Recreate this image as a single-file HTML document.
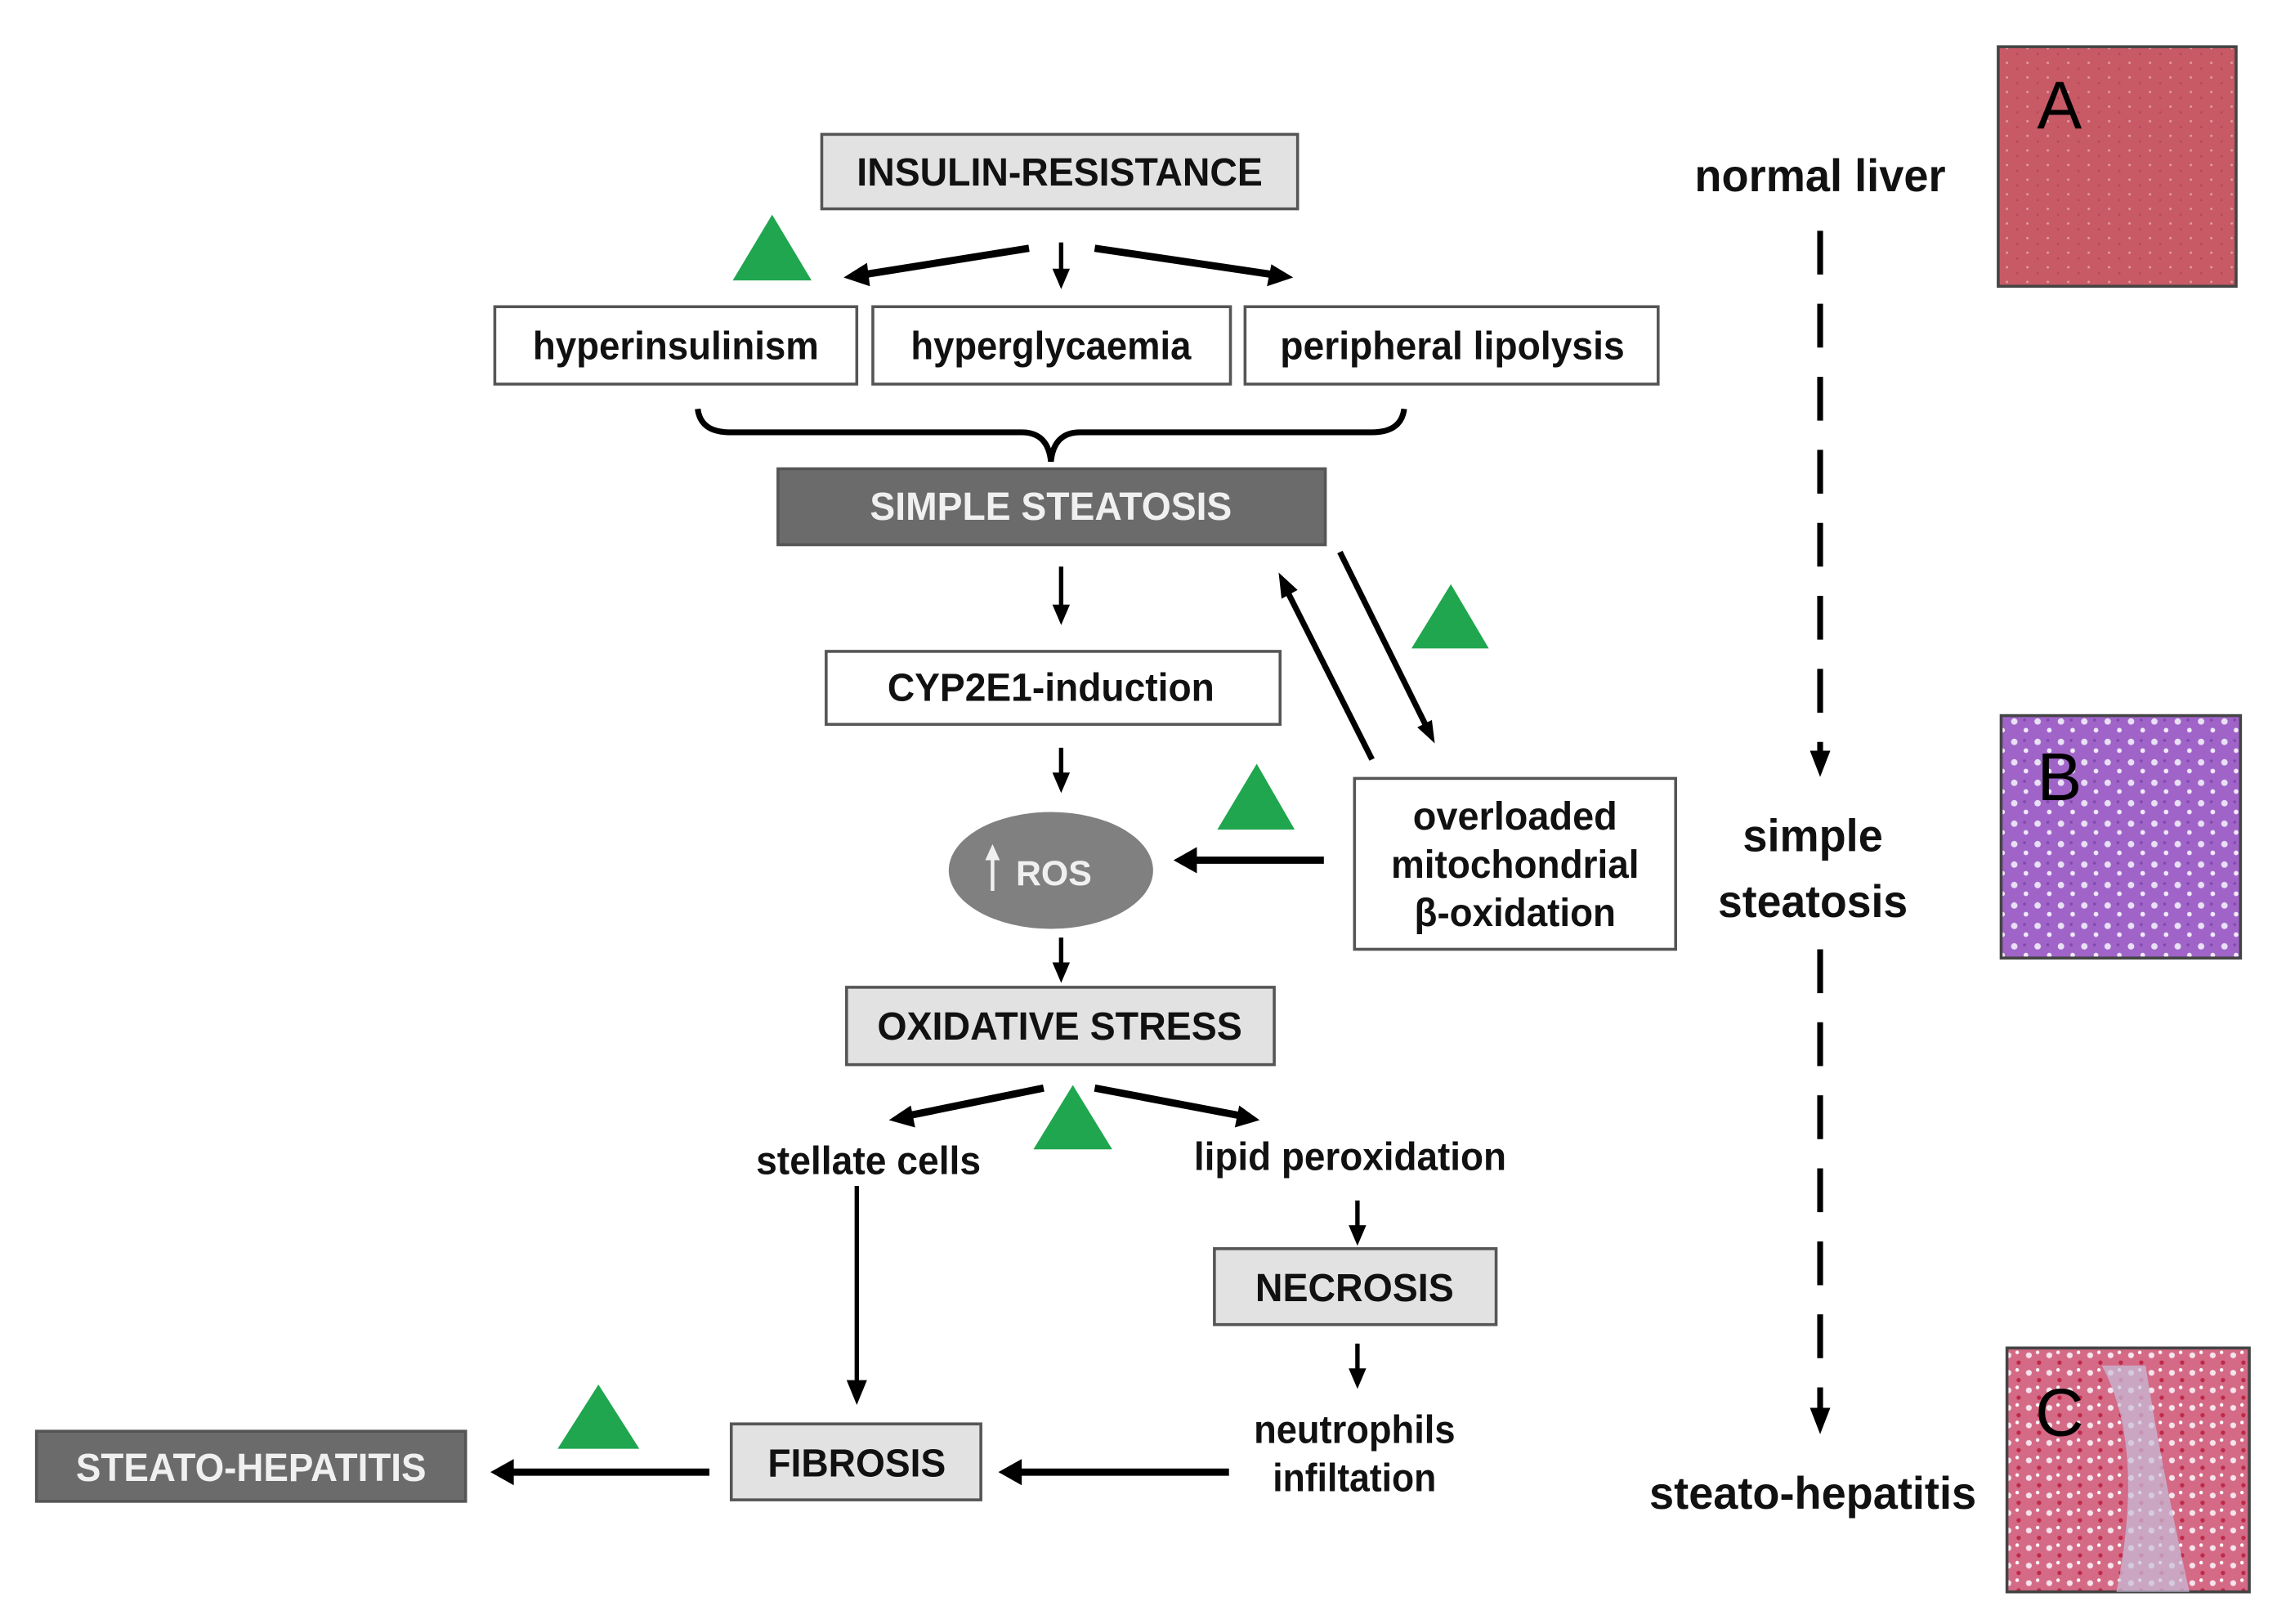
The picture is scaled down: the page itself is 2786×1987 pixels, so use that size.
<!DOCTYPE html>
<html><head><meta charset="utf-8"><style>
html,body{margin:0;padding:0;background:#fff;}
svg{display:block;}
text{font-family:"Liberation Sans",Arial,sans-serif;font-weight:bold;}
</style></head><body>
<svg width="2786" height="1987" viewBox="0 0 1560 1112" preserveAspectRatio="none" xmlns="http://www.w3.org/2000/svg">
<defs>
<pattern id="pa" width="14" height="10" patternUnits="userSpaceOnUse">
<rect width="14" height="10" fill="#c85a66"/><circle cx="3" cy="3" r="0.8" fill="#e0a0a8"/><circle cx="10" cy="7" r="0.8" fill="#b84858"/>
</pattern>
<pattern id="pb" width="16" height="14" patternUnits="userSpaceOnUse">
<rect width="16" height="14" fill="#a064c8"/><circle cx="4" cy="4" r="2.2" fill="#e8e0f4"/><circle cx="12" cy="10" r="1.6" fill="#f0eaf8"/><circle cx="11" cy="3" r="1" fill="#8048b0"/>
</pattern>
<pattern id="pc" width="14" height="12" patternUnits="userSpaceOnUse">
<rect width="14" height="12" fill="#d46a86"/><circle cx="4" cy="4" r="2" fill="#f6e4ec"/><circle cx="11" cy="9" r="1.5" fill="#c02848"/><circle cx="10" cy="2" r="1.2" fill="#fff"/>
</pattern>
</defs>

<g stroke="#555" stroke-width="2">
<rect x="563" y="92" width="326" height="51" fill="#e2e2e2"/>
<rect x="339" y="210" width="248" height="53" fill="#fff"/>
<rect x="598" y="210" width="245" height="53" fill="#fff"/>
<rect x="853" y="210" width="283" height="53" fill="#fff"/>
<rect x="533" y="321" width="375" height="52" fill="#6b6b6b"/>
<rect x="566" y="446" width="311" height="50" fill="#fff"/>
<rect x="928" y="533" width="220" height="117" fill="#fff"/>
<rect x="580" y="676" width="293" height="53" fill="#e2e2e2"/>
<rect x="832" y="855" width="193" height="52" fill="#e2e2e2"/>
<rect x="501" y="975" width="171" height="52" fill="#e2e2e2"/>
<rect x="25" y="980" width="294" height="48" fill="#6b6b6b"/>
</g>
<ellipse cx="720" cy="596" rx="70" ry="40" fill="#808080"/>

<g fill="#1fa64e">
<polygon points="529,147 556,192 502,192"/>
<polygon points="994,400 1020,444 967,444"/>
<polygon points="861,523 887,568 834,568"/>
<polygon points="735,743 762,787 708,787"/>
<polygon points="410,948 438,992 382,992"/>
</g>

<path d="M478,280 Q480,296 500,296 L700,296 Q718,296 720,316 Q722,296 740,296 L940,296 Q960,296 962,280" fill="none" stroke="#000" stroke-width="4"/>

<g stroke="#000" fill="none" stroke-linecap="butt">
<line x1="705" y1="170" x2="592" y2="188" stroke-width="5"/>
<line x1="727" y1="166" x2="727" y2="190" stroke-width="3"/>
<line x1="750" y1="170" x2="872" y2="188" stroke-width="5"/>
<line x1="727" y1="388" x2="727" y2="420" stroke-width="3"/>
<line x1="940" y1="520" x2="881" y2="403" stroke-width="4"/>
<line x1="918" y1="378" x2="977" y2="497" stroke-width="4"/>
<line x1="727" y1="512" x2="727" y2="535" stroke-width="3"/>
<line x1="907" y1="589" x2="818" y2="589" stroke-width="5"/>
<line x1="727" y1="642" x2="727" y2="665" stroke-width="3"/>
<line x1="715" y1="745" x2="622" y2="764" stroke-width="5"/>
<line x1="750" y1="745" x2="850" y2="764" stroke-width="5"/>
<line x1="930" y1="822" x2="930" y2="845" stroke-width="3"/>
<line x1="930" y1="920" x2="930" y2="943" stroke-width="3"/>
<line x1="587" y1="812" x2="587" y2="950" stroke-width="3"/>
<line x1="842" y1="1008" x2="698" y2="1008" stroke-width="5"/>
<line x1="486" y1="1008" x2="350" y2="1008" stroke-width="5"/>
<line x1="1247" y1="158" x2="1247" y2="518" stroke-width="4" stroke-dasharray="30,20"/>
<line x1="1247" y1="650" x2="1247" y2="968" stroke-width="4" stroke-dasharray="30,20"/>
</g>
<g fill="#000">
<polygon points="578,190 594,180 596,196"/>
<polygon points="727,198 721,184 733,184"/>
<polygon points="886,190 868,196 871,181"/>
<polygon points="727,428 721,414 733,414"/>
<polygon points="876,392 889,404 878,410"/>
<polygon points="983,509 971,498 981,493"/>
<polygon points="727,543 721,529 733,529"/>
<polygon points="804,589 820,580 820,598"/>
<polygon points="727,673 721,659 733,659"/>
<polygon points="609,767 624,757 627,772"/>
<polygon points="863,767 846,772 849,757"/>
<polygon points="930,853 924,839 936,839"/>
<polygon points="930,951 924,937 936,937"/>
<polygon points="587,962 580,945 594,945"/>
<polygon points="684,1008 700,999 700,1017"/>
<polygon points="336,1008 352,999 352,1017"/>
<polygon points="1247,532 1240,514 1254,514"/>
<polygon points="1247,982 1240,964 1254,964"/>
</g>

<g font-size="27" text-anchor="middle" fill="#111">
<text x="726" y="127" textLength="278" lengthAdjust="spacingAndGlyphs">INSULIN-RESISTANCE</text>
<text x="463" y="246" textLength="196" lengthAdjust="spacingAndGlyphs">hyperinsulinism</text>
<text x="720" y="246" textLength="192" lengthAdjust="spacingAndGlyphs">hyperglycaemia</text>
<text x="995" y="246" textLength="236" lengthAdjust="spacingAndGlyphs">peripheral lipolysis</text>
<text x="720" y="356" fill="#f0f0f0" textLength="248" lengthAdjust="spacingAndGlyphs">SIMPLE STEATOSIS</text>
<text x="720" y="480" textLength="224" lengthAdjust="spacingAndGlyphs">CYP2E1-induction</text>
<text x="1038" y="568" textLength="140" lengthAdjust="spacingAndGlyphs">overloaded</text>
<text x="1038" y="601" textLength="170" lengthAdjust="spacingAndGlyphs">mitochondrial</text>
<text x="1038" y="634" textLength="138" lengthAdjust="spacingAndGlyphs">β-oxidation</text>
<text x="722" y="606" fill="#f0f0f0" font-size="24">ROS</text>
<text x="726" y="712" textLength="250" lengthAdjust="spacingAndGlyphs">OXIDATIVE STRESS</text>
<text x="595" y="804" textLength="154" lengthAdjust="spacingAndGlyphs">stellate cells</text>
<text x="925" y="801" textLength="214" lengthAdjust="spacingAndGlyphs">lipid peroxidation</text>
<text x="928" y="891" textLength="136" lengthAdjust="spacingAndGlyphs">NECROSIS</text>
<text x="928" y="988" textLength="138" lengthAdjust="spacingAndGlyphs">neutrophils</text>
<text x="928" y="1021" textLength="112" lengthAdjust="spacingAndGlyphs">infiltation</text>
<text x="587" y="1011" textLength="122" lengthAdjust="spacingAndGlyphs">FIBROSIS</text>
<text x="172" y="1014" fill="#f0f0f0" textLength="240" lengthAdjust="spacingAndGlyphs">STEATO-HEPATITIS</text>
<text x="1247" y="131" font-size="31" textLength="172" lengthAdjust="spacingAndGlyphs">normal liver</text>
<text x="1242" y="583" font-size="31" textLength="96" lengthAdjust="spacingAndGlyphs">simple</text>
<text x="1242" y="628" font-size="31" textLength="130" lengthAdjust="spacingAndGlyphs">steatosis</text>
<text x="1242" y="1033" font-size="31" textLength="224" lengthAdjust="spacingAndGlyphs">steato-hepatitis</text>
</g>
<line x1="680" y1="610" x2="680" y2="586" stroke="#f0f0f0" stroke-width="2.5"/>
<polygon points="680,578 675,589 685,589" fill="#f0f0f0"/>

<rect x="1369" y="32" width="163" height="164" fill="url(#pa)" stroke="#444" stroke-width="2"/>
<rect x="1371" y="490" width="164" height="166" fill="url(#pb)" stroke="#444" stroke-width="2"/>
<rect x="1375" y="923" width="166" height="167" fill="url(#pc)" stroke="#444" stroke-width="2"/>
<path d="M1440,935 Q1470,990 1450,1090 L1500,1090 Q1480,1000 1470,935 Z" fill="#c8c0dc" opacity="0.7"/>
<g font-size="46" fill="#000" text-anchor="middle">
<text x="1411" y="88" style="font-weight:normal">A</text>
<text x="1411" y="548" style="font-weight:normal">B</text>
<text x="1411" y="983" style="font-weight:normal">C</text>
</g>
</svg>
</body></html>
